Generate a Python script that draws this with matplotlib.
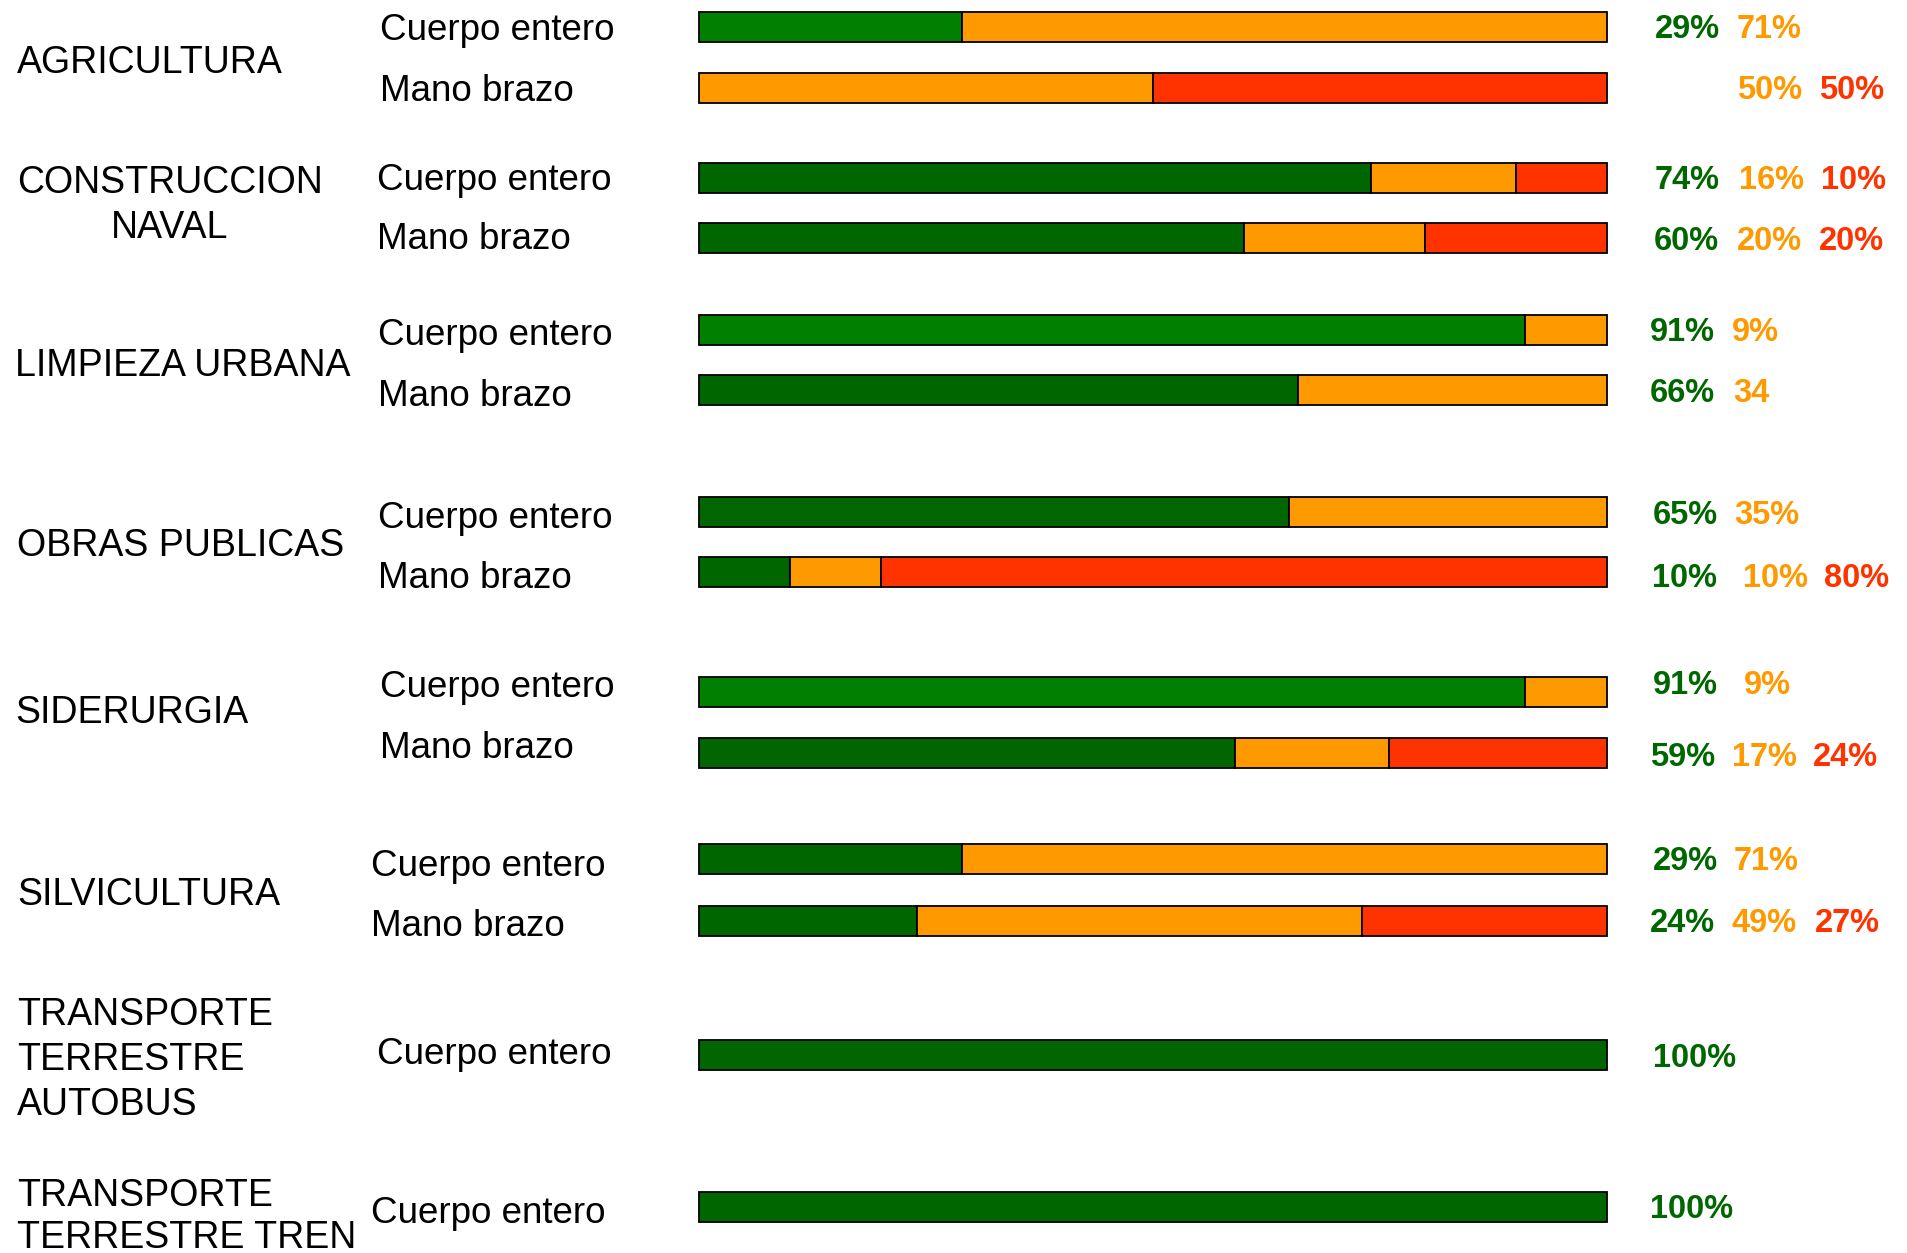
import matplotlib
matplotlib.use("Agg")
import matplotlib.pyplot as plt

# ---- data ---------------------------------------------------------------
categories = [
    "AGRICULTURA",
    "CONSTRUCCION\nNAVAL",
    "LIMPIEZA URBANA",
    "OBRAS PUBLICAS",
    "SIDERURGIA",
    "SILVICULTURA",
    "TRANSPORTE\nTERRESTRE\nAUTOBUS",
    "TRANSPORTE\nTERRESTRE TREN",
]
row_category = [0, 0, 1, 1, 2, 2, 3, 3, 4, 4, 5, 5, 6, 7]
sublabels = ["Cuerpo entero", "Mano brazo"] * 6 + ["Cuerpo entero", "Cuerpo entero"]

green = [29, 0, 74, 60, 91, 66, 65, 10, 91, 59, 29, 24, 100, 100]
orange = [71, 50, 16, 20, 9, 34, 35, 10, 9, 17, 71, 49, 0, 0]
red = [0, 50, 10, 20, 0, 0, 0, 80, 0, 24, 0, 27, 0, 0]

# value labels that are printed without the percent sign
no_percent = {(5, 1)}

# ---- layout (pixel units of a 1907 x 1253 canvas) ---------------------------
W, H = 1907, 1253
bar_left, bar_right = 699, 1607
bar_height = 30
bar_y = [26.8, 87.6, 177.6, 238.4, 329.6, 390.4, 512, 571.6,
         692, 752.8, 858.6, 920.6, 1054.5, 1206.5]
label_y = [26.8, 87.6, 177.6, 238.4, 329.6, 390.4, 512, 575,
           682, 754, 858.6, 920.6, 1055.7, 1206.5]
label_x = [
    (1655, 1737, None), (None, 1737, 1819),
    (1655, 1739, 1821), (1654, 1737, 1819),
    (1650, 1732, None), (1650, 1733, None),
    (1653, 1734, None), (1652, 1743, 1824),
    (1653, 1744, None), (1650, 1732, 1813),
    (1653, 1734, None), (1650, 1732, 1815),
    (1653, None, None), (1650, None, None),
]
sub_x = [380, 380, 377, 377, 378, 378, 378, 378, 380, 380, 371, 371, 377, 371]
sub_y = [26.8, 87.6, 176.3, 236, 332, 392.8, 514.5, 575,
         683.5, 744.3, 862.3, 923, 1050.8, 1210]
cat_pos = [  # (x, first-line cap centre, line step, centred?)
    (17, 59.6, 45, False),
    (170, 180, 45, True),
    (15, 362.4, 45, False),
    (17, 542.4, 45, False),
    (15, 710, 45, False),
    (17, 891.5, 45, False),
    (17, 1012, 45, False),
    (17, 1193, 42, False),
]

LIGHT_GREEN = "#007F00"
DARK_GREEN = "#006600"
ORANGE = "#FF9900"
RED = "#FF3300"
light_rows = {0, 4, 8}

plt.rcParams["font.family"] = ["Liberation Sans", "DejaVu Sans"]

fig = plt.figure(figsize=(W / 100, H / 100), dpi=100)
ax = fig.add_axes([bar_left / W, 0, (bar_right - bar_left) / W, 1])
ax.set_xlim(0, 100)
ax.set_ylim(H, 0)
ax.axis("off")

def fy(y):
    return 1 - y / H

PCT_SIZE = 23.5
CAP_CAT = 0.716 * 27 * 100 / 72   # cap height in px at 27 pt
CAP_PCT = 0.716 * PCT_SIZE * 100 / 72

for i in range(len(green)):
    seg_colors = [LIGHT_GREEN if i in light_rows else DARK_GREEN, ORANGE, RED]
    left = 0
    for val, col in zip((green[i], orange[i], red[i]), seg_colors):
        if val > 0:
            ax.barh(bar_y[i], val, left=left, height=bar_height, color=col,
                    edgecolor="black", linewidth=1.3, clip_on=False)
            left += val
    # value labels
    text_cols = [DARK_GREEN, ORANGE, RED]
    for k, val in enumerate((green[i], orange[i], red[i])):
        x = label_x[i][k]
        if val > 0 and x is not None:
            txt = f"{val}" if (i, k) in no_percent else f"{val}%"
            fig.text(x / W, fy(label_y[i] + CAP_PCT / 2), txt, color=text_cols[k],
                     fontsize=PCT_SIZE, fontweight="bold", ha="left", va="baseline")
    # body-region label
    fig.text(sub_x[i] / W, fy(sub_y[i] + CAP_CAT / 2), sublabels[i],
             fontsize=26.5, color="black", ha="left", va="baseline")

for name, (x, y0, step, centred) in zip(categories, cat_pos):
    for j, line in enumerate(name.split("\n")):
        fig.text(x / W, fy(y0 + j * step + CAP_CAT / 2), line, fontsize=27,
                 color="black", ha="center" if centred else "left", va="baseline")

fig.savefig("out.png", dpi=100, facecolor="white")
